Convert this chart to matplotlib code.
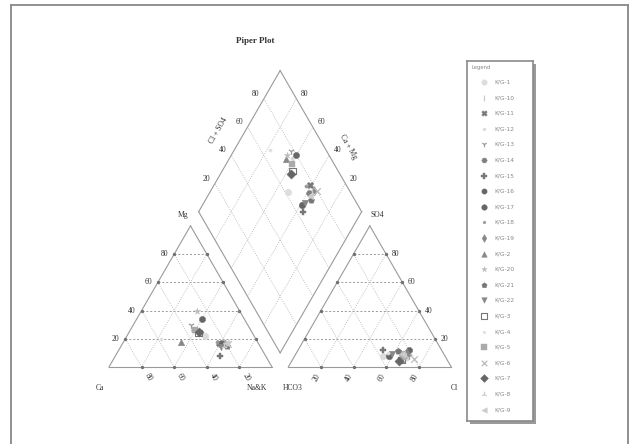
import matplotlib
matplotlib.use("Agg")
import matplotlib.pyplot as plt
import numpy as np
from matplotlib.patches import Rectangle

# sample names as in the legend
samples = ["K/G-1", "K/G-10", "K/G-11", "K/G-12", "K/G-13", "K/G-14", "K/G-15",
           "K/G-16", "K/G-17", "K/G-18", "K/G-19", "K/G-2", "K/G-20", "K/G-21",
           "K/G-22", "K/G-3", "K/G-4", "K/G-5", "K/G-6", "K/G-7", "K/G-8", "K/G-9"]

# cations (% meq)
ca = [30, 33, 24, 36, 35, 22, 28, 26, 23, 25, 21, 47, 26, 20, 24, 33, 58, 34, 19, 32, 22, 20]
mg = [22, 25, 17, 26, 30, 17, 8, 34, 16, 18, 16, 18, 40, 15, 14, 24, 20, 26, 16, 25, 15, 17]
nak = [48, 42, 59, 38, 35, 61, 64, 40, 61, 57, 63, 35, 34, 65, 62, 43, 22, 40, 65, 43, 63, 63]

# anions (% meq)
hco3 = [38, 30, 22, 24, 22, 26, 36, 20, 34, 25, 22, 28, 26, 27, 32, 28, 34, 26, 20, 30, 24, 26]
so4 = [8, 6, 10, 6, 8, 9, 12, 12, 8, 7, 10, 6, 10, 11, 9, 5, 10, 7, 6, 4, 8, 9]
cl = [54, 64, 68, 70, 70, 65, 52, 68, 58, 68, 68, 66, 64, 62, 59, 67, 56, 67, 74, 66, 68, 65]

markers = ["o", "|", "X", ".", "1", "H", "P", "8", "o", ".", "d", "^", "*", "p",
           "v", "s", ".", "s", "x", "D", "2", "<"]
colors = ["#dddddd", "#cccccc", "#777777", "#d8d8d8", "#999999", "#808080", "#777777",
          "#666666", "#666666", "#999999", "#888888", "#888888", "#bbbbbb", "#777777",
          "#888888", "#777777", "#e0e0e0", "#aaaaaa", "#bbbbbb", "#666666", "#cccccc",
          "#cccccc"]

ticks = [20, 40, 60, 80]

H = np.sqrt(3) / 2
GAP = 0.1
SCALE = 163.0  # px per triangle side
X0, Y0 = 109, 367  # pixel position of the Ca corner

W, HT = 634, 444
fig = plt.figure(figsize=(W / 100, HT / 100), dpi=100)
ax = fig.add_axes([0, 0, 1, 1])
ax.set_xlim(-X0 / SCALE, (W - X0) / SCALE)
ax.set_ylim(-(HT - Y0) / SCALE, Y0 / SCALE)
ax.axis("off")

serif = "Liberation Serif"
edge_c = "#9a9a9a"
grid_c = "#b0b0b0"
txt_c = "#333333"


def seg(p, q, **kw):
    ax.plot([p[0], q[0]], [p[1], q[1]], **kw)


def triangle(x0):
    a, b, c = (x0, 0), (x0 + 1, 0), (x0 + 0.5, H)
    seg(a, b, color=edge_c, lw=0.8)
    seg(b, c, color=edge_c, lw=0.8)
    seg(c, a, color=edge_c, lw=0.8)
    for t in np.array(ticks) / 100:
        seg((x0 + t / 2, t * H), (x0 + 1 - t / 2, t * H), color="#999999", lw=0.7, ls=(0, (2, 2)))
        seg((x0 + t, 0), (x0 + t + (1 - t) / 2, (1 - t) * H), color=grid_c, lw=0.6, ls=":")
        seg((x0 + t, 0), (x0 + t / 2, t * H), color=grid_c, lw=0.6, ls=":")
        ax.plot([x0 + t, x0 + t / 2, x0 + 1 - t / 2], [0, t * H, t * H], ls="none",
                marker="o", ms=1.4, color="#707070")


triangle(0)
triangle(1 + GAP)

# diamond
B = np.array([1 + GAP / 2, GAP * H])
u = np.array([0.5, H])
v = np.array([-0.5, H])
for p, q in [(B, B + u), (B + u, B + u + v), (B + u + v, B + v), (B + v, B)]:
    seg(p, q, color=edge_c, lw=0.8)
for t in np.array(ticks) / 100:
    seg(B + t * u, B + t * u + v, color=grid_c, lw=0.6, ls=":")
    seg(B + t * v, B + t * v + u, color=grid_c, lw=0.6, ls=":")

# tick labels
fs = 5.5
for t in ticks:
    f = t / 100
    ax.text(f / 2 - 0.035, f * H, str(t), ha="right", va="center", fontsize=fs,
            family=serif, color=txt_c)
    ax.text(f + 0.04, -0.065, str(100 - t), ha="center", va="center", fontsize=fs,
            family=serif, rotation=-60, color=txt_c)
    x1 = 1 + GAP
    ax.text(x1 + 1 - f / 2 + 0.035, f * H, str(t), ha="left", va="center", fontsize=fs,
            family=serif, color=txt_c)
    ax.text(x1 + f - 0.025, -0.065, str(t), ha="center", va="center", fontsize=fs,
            family=serif, rotation=60, color=txt_c)
    pl = B + v + f * u + 0.06 * np.array([-H, 0.5])
    ax.text(pl[0], pl[1], str(t), ha="center", va="center", fontsize=fs, family=serif,
            color=txt_c)
    pr = B + u + f * v + 0.06 * np.array([H, 0.5])
    ax.text(pr[0], pr[1], str(t), ha="center", va="center", fontsize=fs, family=serif,
            color=txt_c)

corner_kw = dict(fontsize=5.5, family=serif, color=txt_c, ha="center", va="center")
ax.text(-0.055, -0.13, "Ca", **corner_kw)
ax.text(0.905, -0.13, "Na&K", **corner_kw)
ax.text(1.13, -0.13, "HCO3", **corner_kw)
ax.text(2.12, -0.13, "Cl", **corner_kw)
ax.text(0.454, 0.933, "Mg", **corner_kw)
ax.text(1.645, 0.933, "SO4", **corner_kw)
ax.text(0.669, 1.454, "Cl + SO4", rotation=60, **corner_kw)
ax.text(1.466, 1.35, "Ca + Mg", rotation=-60, **corner_kw)
ax.text(0.896, 2.0, "Piper Plot", fontsize=6.5, family=serif, weight="bold",
        color=txt_c, ha="center", va="center")

# data points
ca_f = np.array(ca) / 100
mg_f = np.array(mg) / 100
nak_f = np.array(nak) / 100
so4_f = np.array(so4) / 100
cl_f = np.array(cl) / 100
cat_x = nak_f + mg_f / 2
cat_y = mg_f * H
an_x = 1 + GAP + cl_f + so4_f / 2
an_y = so4_f * H
a = cl_f + so4_f
m = ca_f + mg_f
dia = B + np.outer(a, u) + np.outer(m, v)


def style(i, size=22):
    mk = markers[i]
    kw = dict(marker=mk, s=size, zorder=3)
    if mk == "s" and colors[i] == "#777777":
        kw.update(facecolors="none", edgecolors=colors[i], linewidths=0.8)
    elif mk in ("|", "1", "2", "x", "+"):
        kw.update(color=colors[i], linewidths=0.9)
    else:
        kw.update(color=colors[i], edgecolors=colors[i], linewidths=0.3)
    return kw


for i in range(len(samples)):
    ax.scatter([cat_x[i], an_x[i], dia[i, 0]], [cat_y[i], an_y[i], dia[i, 1]], **style(i))

# outer frame
for xs, ys in [([11, 628], [5, 5]), ([11, 11], [5, HT]), ([628, 628], [5, HT])]:
    fig.add_artist(plt.Line2D(np.array(xs) / W, 1 - np.array(ys) / HT, color="#888888", lw=1.3))

# legend box
lx0, lx1, ly0, ly1 = 467, 533, 61, 421
fig.add_artist(Rectangle(((lx0 + 3) / W, 1 - (ly1 + 3) / HT), (lx1 - lx0) / W,
                         (ly1 - ly0) / HT, transform=fig.transFigure,
                         facecolor="#9a9a9a", edgecolor="none", zorder=1))
lax = fig.add_axes([lx0 / W, 1 - ly1 / HT, (lx1 - lx0) / W, (ly1 - ly0) / HT], zorder=2)
lax.set_xlim(lx0, lx1)
lax.set_ylim(ly1, ly0)
lax.set_xticks([])
lax.set_yticks([])
for sp in lax.spines.values():
    sp.set_color("#8a8a8a")
    sp.set_linewidth(1.2)
lax.text(471, 68, "Legend", fontsize=3.8, color="#888888", ha="left", va="center")
for i, name in enumerate(samples):
    yy = 82 + i * 15.6
    lax.scatter([484], [yy], **style(i, size=16))
    lax.text(494, yy, name, fontsize=4.2, color="#888888", ha="left", va="center")

fig.savefig("out.png", dpi=100)
